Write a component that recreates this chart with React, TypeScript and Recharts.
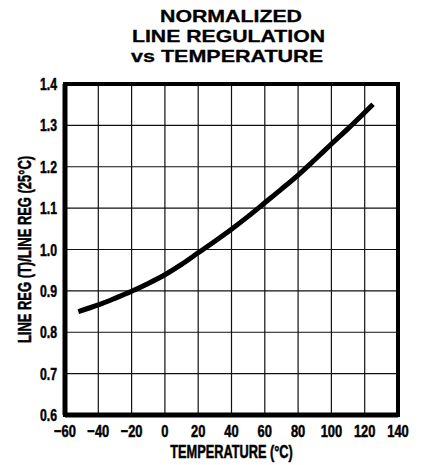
import { LineChart, Line, XAxis, YAxis, CartesianGrid, ReferenceArea, Label } from "recharts";

// Readings: temperature (°C) vs normalized line regulation
const temperatures = [-52, -40, -30, -20, -10, 0, 10, 20, 30, 40, 50, 60, 70, 80, 90, 100, 110, 120, 125];
const lineRegRatio = [0.85, 0.866, 0.882, 0.899, 0.918, 0.939, 0.964, 0.992, 1.02, 1.049, 1.08, 1.113, 1.146, 1.18, 1.217, 1.255, 1.292, 1.331, 1.351];

const xTicks = [-60, -40, -20, 0, 20, 40, 60, 80, 100, 120, 140];
const yTicks = [0.6, 0.7, 0.8, 0.9, 1.0, 1.1, 1.2, 1.3, 1.4];
const titleLines = ["NORMALIZED", "LINE REGULATION", "vs TEMPERATURE"];
const xTitle = "TEMPERATURE (°C)";
const yTitle = "LINE REG (T)/LINE REG (25°C)";

const data = temperatures.map((t, i) => ({ temp: t, ratio: lineRegRatio[i] }));

const font = "'Liberation Sans', Arial, sans-serif";
const heavy = { fontFamily: font, fontWeight: 700, fill: "#000", stroke: "#000", strokeWidth: 0.5 };

// title layout: [center x, baseline y, stretched width]
const titlePos = [
  [231, 22, 142],
  [228.5, 42, 193],
  [227, 61.5, 192],
];

// condensed look: regular bold font squeezed horizontally
const XTick = (props: any) => {
  const { x, y, payload } = props;
  const label = String(payload.value).replace("-", "\u2212");
  return (
    <g transform={`translate(${x},${y})`}>
      <text transform="scale(0.76,1)" textAnchor="middle" dy="0.71em" fontSize={17} {...heavy}>
        {label}
      </text>
    </g>
  );
};

const YTick = (props: any) => {
  const { x, y, payload } = props;
  return (
    <g transform={`translate(${x},${y})`}>
      <text transform="scale(0.72,1)" textAnchor="end" dy="0.355em" fontSize={17} {...heavy}>
        {Number(payload.value).toFixed(1)}
      </text>
    </g>
  );
};

const XTitle = (props: any) => {
  const { viewBox } = props;
  const cx = viewBox.x + viewBox.width / 2;
  return (
    <g transform={`translate(${cx},${viewBox.y + 43})`}>
      <text transform="scale(0.71,1)" textAnchor="middle" fontSize={18} {...heavy}>
        {xTitle}
      </text>
    </g>
  );
};

const YTitle = (props: any) => {
  const { viewBox } = props;
  const cy = viewBox.y + viewBox.height / 2;
  return (
    <g transform={`translate(30.5,${cy}) rotate(-90)`}>
      <text transform="scale(0.72,1)" textAnchor="middle" fontSize={18} {...heavy}>
        {yTitle}
      </text>
    </g>
  );
};

const App = () => {
  return (
    <div style={{ position: "absolute", left: 0, top: 0, width: 424, height: 465, background: "#fff" }}>
      <svg width={424} height={80} style={{ position: "absolute", left: 0, top: 0 }}>
        {titleLines.map((line, i) => (
          <text
            key={line}
            x={titlePos[i][0]}
            y={titlePos[i][1]}
            textAnchor="middle"
            textLength={titlePos[i][2]}
            lengthAdjust="spacingAndGlyphs"
            fontSize={16.5}
            {...heavy}
            strokeWidth={0.3}
          >
            {line}
          </text>
        ))}
      </svg>
      <LineChart
        width={424}
        height={465}
        data={data}
        margin={{ top: 84, right: 26, left: 0, bottom: 0 }}
        style={{ position: "absolute", left: 0, top: 0 }}
      >
        <CartesianGrid stroke="#111" strokeWidth={1.2} />
        <XAxis
          dataKey="temp"
          type="number"
          domain={[-60, 140]}
          ticks={xTicks}
          height={50}
          tickLine={false}
          tickMargin={4}
          axisLine={{ stroke: "#000", strokeWidth: 5 }}
          tick={<XTick />}
        >
          <Label content={<XTitle />} />
        </XAxis>
        <YAxis
          type="number"
          domain={[0.6, 1.4]}
          ticks={yTicks}
          width={65}
          tickLine={false}
          axisLine={{ stroke: "#000", strokeWidth: 5 }}
          tick={<YTick />}
        >
          <Label content={<YTitle />} />
        </YAxis>
        {/* plot frame */}
        <ReferenceArea
          x1={-60}
          x2={140}
          y1={0.6}
          y2={1.4}
          ifOverflow="visible"
          fill="none"
          fillOpacity={0}
          stroke="#000"
          strokeWidth={4}
        />
        <Line
          dataKey="ratio"
          type="monotone"
          stroke="#000"
          strokeWidth={5}
          dot={false}
          isAnimationActive={false}
        />
      </LineChart>
    </div>
  );
};

export default App;
